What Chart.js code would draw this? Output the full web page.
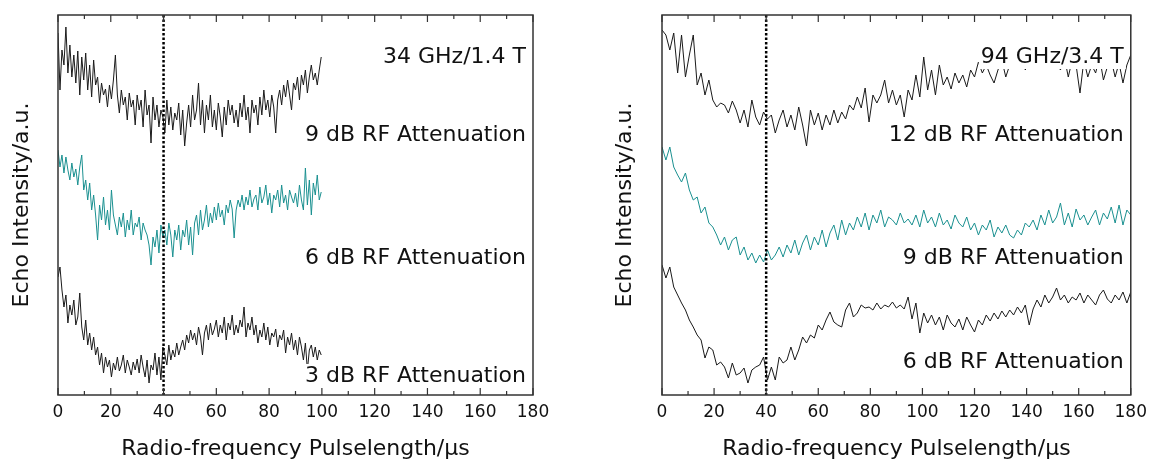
<!DOCTYPE html>
<html>
<head>
<meta charset="utf-8">
<script src="https://cdn.jsdelivr.net/npm/chart.js@4.4.1/dist/chart.umd.min.js"></script>
<style>
    html, body { margin: 0; padding: 0; background: #fff; }
    #quadro { position: relative; width: 1154px; height: 462px; }
    #quadro canvas { position: absolute; top: 0; }
    #grafico34 { left: 0; }
    #grafico94 { left: 577px; }
</style>
</head>
<body>
<div id="quadro">
    <canvas id="grafico34" width="577" height="462"></canvas>
    <canvas id="grafico94" width="577" height="462"></canvas>
</div>
<script>
// 1. Dados (intensidade em u.a., curvas já deslocadas na vertical)
const passo34 = 0.75;   // µs entre pontos, painel 34 GHz
const passo94 = 1.5;    // µs entre pontos, painel 94 GHz
const linhaPontilhada = 40; // µs

const eco34_9dB = [
    362, 305, 345, 330, 368, 322, 350, 318, 340, 312,
    344, 300, 338, 315, 342, 305, 330, 298, 335, 310,
    318, 292, 312, 300, 306, 288, 310, 296, 315, 340,
    300, 282, 305, 290, 298, 275, 302, 288, 295, 270,
    300, 285, 295, 268, 305, 280, 290, 252, 298, 275,
    290, 268, 285, 278, 262, 295, 270, 288, 265, 282,
    275, 292, 260, 285, 249, 272, 290, 268, 300, 275,
    285, 312, 270, 295, 262, 290, 275, 300, 268, 285,
    265, 292, 278, 258, 288, 270, 295, 280, 290, 272,
    285, 268, 292, 278, 300, 275, 288, 262, 295, 282,
    290, 270, 298, 280, 305, 285, 295, 278, 300, 288,
    262, 295, 305, 290, 310, 298, 315, 300, 285, 312,
    305, 318, 295, 320, 310, 325, 302, 318, 330, 315,
    322, 310, 325, 338
];
const eco34_6dB = [
    245, 228, 240, 222, 238, 225, 215, 232, 218, 226,
    210, 228, 240, 205, 215, 195, 212, 185, 200, 180,
    155, 190, 175, 198, 170, 185, 165, 205, 180, 170,
    160, 178, 168, 182, 158, 175, 165, 185, 160, 172,
    168, 178, 155, 172, 165, 160, 150, 130, 158, 148,
    165, 142, 170, 158, 165, 150, 172, 160, 138, 165,
    155, 170, 145, 165, 158, 175, 150, 168, 140, 172,
    180, 160, 185, 165, 175, 190, 168, 182, 172, 188,
    175, 192, 178, 185, 170, 190, 182, 195, 186, 157,
    185, 195, 188, 200, 185, 198, 190, 205, 188, 196,
    200, 185, 208, 192, 198, 210, 190, 202, 182, 200,
    195, 205, 188, 210, 192, 200, 185, 205, 198, 192,
    202, 188, 210, 195, 185, 227, 190, 215, 180, 212,
    200, 220, 195, 203
];
const eco34_3dB = [
    118, 128, 105, 88, 100, 72, 90, 80, 95, 70,
    78, 102, 68, 55, 75, 50, 62, 45, 58, 40,
    48, 30, 42, 22, 38, 28, 35, 18, 32, 25,
    38, 24, 30, 40, 22, 35, 28, 20, 33, 25,
    36, 22, 40, 28, 18, 35, 12, 30, 25, 42,
    20, 38, 15, 48, 40, 30, 50, 35, 45, 38,
    52, 40, 48, 55, 45, 60, 52, 65, 55, 62,
    50, 68, 58, 40, 62, 70, 55, 72, 60, 66,
    75, 58, 70, 62, 78, 55, 72, 65, 80, 60,
    70, 62, 75, 68, 88, 58, 72, 65, 78, 60,
    70, 52, 65, 58, 72, 55, 68, 50, 62, 58,
    66, 48, 60, 55, 65, 42, 58, 50, 62, 45,
    55, 40, 58, 48, 35, 52, 25, 45, 50, 38,
    48, 35, 45, 40
];

const eco94_12dB = [
    365, 360, 345, 362, 322, 360, 318, 340, 360, 310,
    322, 300, 315, 295, 288, 292, 290, 282, 294, 285,
    272, 285, 268, 295, 278, 270, 283, 276, 280, 262,
    275, 285, 268, 280, 265, 288, 270, 249, 285, 270,
    282, 265, 280, 270, 285, 272, 283, 276, 290, 285,
    298, 287, 307, 273, 300, 292, 300, 315, 292, 305,
    290, 300, 278, 305, 295, 320, 298, 338, 305, 325,
    300, 330, 310, 318, 306, 322, 312, 320, 308, 325,
    318, 333, 322, 330, 320, 312, 325, 335, 318, 330,
    338, 330, 340, 325, 335, 342, 330, 338, 328, 335,
    340, 332, 325, 338, 318, 335, 330, 302, 335, 318,
    330, 322, 338, 315, 328, 335, 318, 332, 312, 330,
    340
];
const eco94_9dB = [
    248, 235, 248, 228, 220, 213, 222, 205, 195, 198,
    182, 188, 172, 168, 160, 150, 158, 145, 155, 158,
    140, 148, 135, 142, 132, 140, 133, 145, 135, 140,
    148, 138, 150, 142, 155, 140, 152, 160, 145, 158,
    150, 165, 148, 162, 170, 155, 175, 160, 172, 165,
    178, 168, 182, 165, 180, 172, 185, 168, 178, 175,
    170, 182, 172, 176, 170, 180, 168, 185, 172, 178,
    168, 182, 170, 175, 166, 180, 172, 168, 178, 165,
    172, 160, 170, 165, 175, 158, 168, 162, 170, 160,
    157, 165, 160, 172, 168, 175, 165, 180, 170, 185,
    172, 178, 192, 170, 182, 168, 186, 175, 180, 170,
    178, 185, 170, 182, 176, 188, 172, 190, 170, 185,
    180
];
const eco94_6dB = [
    130, 117, 128, 108, 100, 92, 85, 75, 68, 60,
    55, 37, 48, 45, 30, 33, 28, 17, 32, 20,
    22, 27, 12, 25, 28, 30, 38, 15, 28, 15,
    38, 32, 35, 48, 35, 45, 58, 52, 60, 57,
    70, 65, 75, 83, 73, 70, 68, 85, 92, 78,
    82, 90, 87, 88, 85, 92, 86, 90, 88, 93,
    87, 90, 86, 98, 76, 92, 62, 82, 72, 80,
    70, 78, 65, 80, 72, 68, 76, 65, 78, 70,
    63, 75, 70, 80, 74, 82, 76, 84, 78, 85,
    80, 88, 82, 90, 70, 86, 95, 88, 100, 92,
    98, 107, 95, 100, 92, 98, 95, 102, 92, 100,
    95, 90, 100, 105, 96, 92, 100, 95, 103, 92,
    103
];

// Rótulos de texto e a altura (u.a.) em que ficam
const rotulos34 = ['34 GHz/1.4 T', '9 dB RF Attenuation', '6 dB RF Attenuation', '3 dB RF Attenuation'];
const alturas34 = [338, 260, 137, 19];
const rotulos94 = ['94 GHz/3.4 T', '12 dB RF Attenuation', '9 dB RF Attenuation', '6 dB RF Attenuation'];
const alturas94 = [338, 260, 137, 33];

const tituloX = 'Radio-frequency Pulselength/µs';
const tituloY = 'Echo Intensity/a.u.';

const corPreta = '#1a1a1a';
const corTeal = '#1a9090';

Chart.defaults.font.family = "'DejaVu Sans', sans-serif";
Chart.defaults.color = '#111';

function montarSerie(valores, passo) {
    return valores.map((v, i) => ({ x: i * passo, y: v }));
}

// 2. Plugin: linha pontilhada, rótulos com fundo branco, moldura e marcas internas
const pluginMoldura = {
    id: 'moldura',
    afterDatasetsDraw(chart, args, opts) {
        const { ctx, chartArea: a } = chart;
        const sx = chart.scales.x;
        const sy = chart.scales.y;
        ctx.save();

        const x40 = sx.getPixelForValue(linhaPontilhada);
        ctx.strokeStyle = '#000';
        ctx.lineWidth = 2.5;
        ctx.setLineDash([2.5, 2]);
        ctx.beginPath();
        ctx.moveTo(x40, a.top);
        ctx.lineTo(x40, a.bottom);
        ctx.stroke();
        ctx.setLineDash([]);

        ctx.font = '22px "DejaVu Sans"';
        ctx.textAlign = 'right';
        ctx.textBaseline = 'middle';
        opts.rotulos.forEach((txt, i) => {
            const py = sy.getPixelForValue(opts.alturas[i]);
            const px = a.right - 7;
            const w = ctx.measureText(txt).width;
            ctx.fillStyle = '#fff';
            ctx.fillRect(px - w - 2, py - 12, w + 4, 24);
            ctx.fillStyle = '#111';
            ctx.fillText(txt, px, py);
        });

        ctx.strokeStyle = '#333';
        ctx.lineWidth = 1.5;
        ctx.strokeRect(a.left, a.top, a.right - a.left, a.bottom - a.top);

        ctx.lineWidth = 1.2;
        for (let v = sx.min; v <= sx.max; v += 10) {
            const px = sx.getPixelForValue(v);
            const tam = v % 20 === 0 ? 7 : 4;
            ctx.beginPath();
            ctx.moveTo(px, a.bottom);
            ctx.lineTo(px, a.bottom - tam);
            ctx.moveTo(px, a.top);
            ctx.lineTo(px, a.top + tam);
            ctx.stroke();
        }
        ctx.restore();
    }
};

function criarPainel(idCanvas, series, passo, rotulos, alturas, larguraEixoY, padDireita, padTituloY) {
    const ctx = document.getElementById(idCanvas).getContext('2d');
    new Chart(ctx, {
        type: 'line',
        data: {
            datasets: series.map(s => ({
                data: montarSerie(s.valores, passo),
                borderColor: s.cor,
                borderWidth: 1,
                pointRadius: 0,
                tension: 0,
                fill: false
            }))
        },
        options: {
            responsive: false,
            animation: false,
            devicePixelRatio: 1,
            layout: { padding: { top: 15, right: padDireita, left: 0, bottom: 0 } },
            plugins: {
                legend: { display: false },
                tooltip: { enabled: false },
                moldura: { rotulos: rotulos, alturas: alturas }
            },
            scales: {
                x: {
                    type: 'linear',
                    min: 0,
                    max: 180,
                    grid: { display: false, drawTicks: false },
                    border: { display: false },
                    ticks: { stepSize: 20, padding: 7, color: '#111', font: { size: 17 } },
                    title: { display: true, text: tituloX, color: '#111', font: { size: 22 }, padding: { top: 0, bottom: 0 } },
                    afterFit(scale) { scale.height = 67; }
                },
                y: {
                    type: 'linear',
                    min: 0,
                    max: 380,
                    grid: { display: false, drawTicks: false },
                    border: { display: false },
                    ticks: { display: false },
                    title: { display: true, text: tituloY, color: '#111', font: { size: 22 }, padding: { top: padTituloY, bottom: 0 } },
                    afterFit(scale) { scale.width = larguraEixoY; }
                }
            }
        },
        plugins: [pluginMoldura]
    });
}

document.addEventListener('DOMContentLoaded', () => {
    criarPainel('grafico34', [
        { valores: eco34_9dB, cor: corPreta },
        { valores: eco34_6dB, cor: corTeal },
        { valores: eco34_3dB, cor: corPreta }
    ], passo34, rotulos34, alturas34, 58, 44, 9);

    criarPainel('grafico94', [
        { valores: eco94_12dB, cor: corPreta },
        { valores: eco94_9dB, cor: corTeal },
        { valores: eco94_6dB, cor: corPreta }
    ], passo94, rotulos94, alturas94, 85, 18, 35);
});
</script>
</body>
</html>
